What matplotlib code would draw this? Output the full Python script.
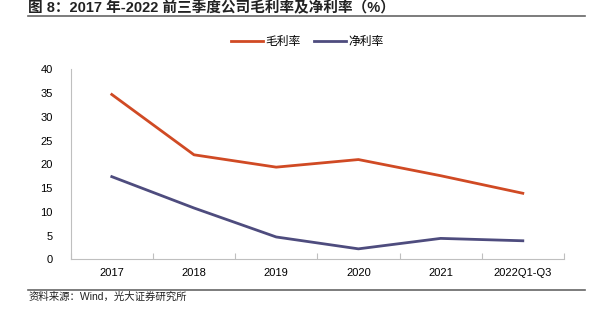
import matplotlib.pyplot as plt
from matplotlib.lines import Line2D
from matplotlib.ticker import FixedLocator

plt.rcParams['font.family'] = ['Liberation Sans', 'Noto Sans CJK SC', 'DejaVu Sans']

categories = ['2017', '2018', '2019', '2020', '2021', '2022Q1-Q3']
gross_margin = [34.7, 22.0, 19.4, 21.0, 17.6, 13.9]
net_margin = [17.4, 10.8, 4.7, 2.2, 4.4, 3.9]

RED = '#D04A24'
PURPLE = '#4E4C7E'
GRAY = '#BFBFBF'

fig = plt.figure(figsize=(5.98, 3.24), dpi=100)
ax = fig.add_axes([0.1182, 0.1997, 0.8248, 0.5864])

x = range(len(categories))
ax.plot(x, gross_margin, color=RED, lw=2.0, label='毛利率')
ax.plot(x, net_margin, color=PURPLE, lw=2.0, label='净利率')

ax.set_xlim(-0.5, len(categories) - 0.5)
ax.set_ylim(0, 40)
ax.set_yticks(range(0, 41, 5))
ax.set_xticks(list(x))
ax.set_xticklabels(categories)
ax.xaxis.set_minor_locator(FixedLocator([i - 0.5 for i in range(len(categories) + 1)]))

ax.tick_params(axis='x', which='major', length=0, pad=6, labelsize=8)
ax.tick_params(axis='x', which='minor', direction='in', length=4, color=GRAY, width=0.8)
ax.tick_params(axis='y', length=0, pad=13, labelsize=8)

for side in ('top', 'right'):
    ax.spines[side].set_visible(False)
for side in ('left', 'bottom'):
    ax.spines[side].set_color(GRAY)
    ax.spines[side].set_linewidth(0.8)

fig.legend(loc='center', bbox_to_anchor=(0.514, 0.87), ncol=2, frameon=False,
           fontsize=8.5, handlelength=2.7, columnspacing=1.1, handletextpad=0.2)

fig.text(0.047, 0.976, '图 8：2017 年-2022 前三季度公司毛利率及净利率（%）',
         fontsize=10.5, fontweight='bold', va='center', ha='left', color='#222222')
fig.add_artist(Line2D([0.047, 0.978], [0.952, 0.952], color='#666666', lw=1.2,
                      transform=fig.transFigure))
fig.add_artist(Line2D([0.047, 0.978], [0.105, 0.105], color='#666666', lw=1.2,
                      transform=fig.transFigure))
fig.text(0.047, 0.083, '资料来源：Wind，光大证券研究所', fontsize=7.5,
         va='center', ha='left', color='#222222')

fig.savefig('out.png', dpi=100)
